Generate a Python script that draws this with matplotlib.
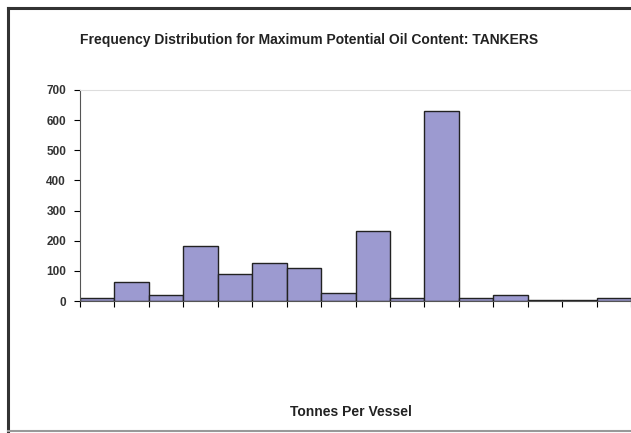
import matplotlib
matplotlib.use("Agg")
import matplotlib.pyplot as plt

# frequency per bin, bins are equal width
counts = [11, 64, 20, 182, 90, 127, 108, 25, 233, 9, 631, 11, 20, 2, 2, 9]
yticks = [0, 100, 200, 300, 400, 500, 600, 700]

plt.rcParams['font.family'] = ['Liberation Sans', 'DejaVu Sans']

fig = plt.figure(figsize=(6.31, 4.33), dpi=100)
fig.patch.set_facecolor("white")

# frame round the chart like the scanned original
W, H = 631, 433
fig.add_artist(plt.Line2D([8 / W, 8 / W], [0, 1 - 8 / H], transform=fig.transFigure,
                          color="#333333", linewidth=2.2))
fig.add_artist(plt.Line2D([8 / W, 1], [1 - 8 / H, 1 - 8 / H], transform=fig.transFigure,
                          color="#333333", linewidth=2.2))
fig.add_artist(plt.Line2D([8 / W, 1], [2 / H, 2 / H], transform=fig.transFigure,
                          color="#999999", linewidth=1.5))

ax = fig.add_axes([80 / W, 1 - 301 / H, 551 / W, 211 / H])
edges = list(range(len(counts) + 1))
ax.bar(edges[:-1], counts, width=1.0, align="edge",
       color="#9c9ad0", edgecolor="#222222", linewidth=1.0)

ax.set_xlim(0, len(counts))
ax.set_ylim(0, 700)
ax.set_yticks(yticks)
ax.set_yticklabels([str(v) for v in yticks], fontsize=8.5, fontweight="bold",
                   color="#333333")
ax.set_xticks(edges)
ax.set_xticklabels([])
ax.tick_params(axis="y", length=4, width=0.8, pad=6)
ax.tick_params(axis="x", length=4, width=0.8)

for s in ["top", "right"]:
    ax.spines[s].set_color("#dddddd")
ax.spines["left"].set_color("#555555")
ax.spines["bottom"].set_color("#555555")

fig.text(309 / W, 1 - 40 / H,
         "Frequency Distribution for Maximum Potential Oil Content: TANKERS",
         ha="center", va="center", fontsize=10, fontweight="bold",
         color="#222222")
fig.text(351 / W, 1 - 412 / H, "Tonnes Per Vessel",
         ha="center", va="center", fontsize=10, fontweight="bold",
         color="#222222")

fig.savefig("out.png", dpi=100)
